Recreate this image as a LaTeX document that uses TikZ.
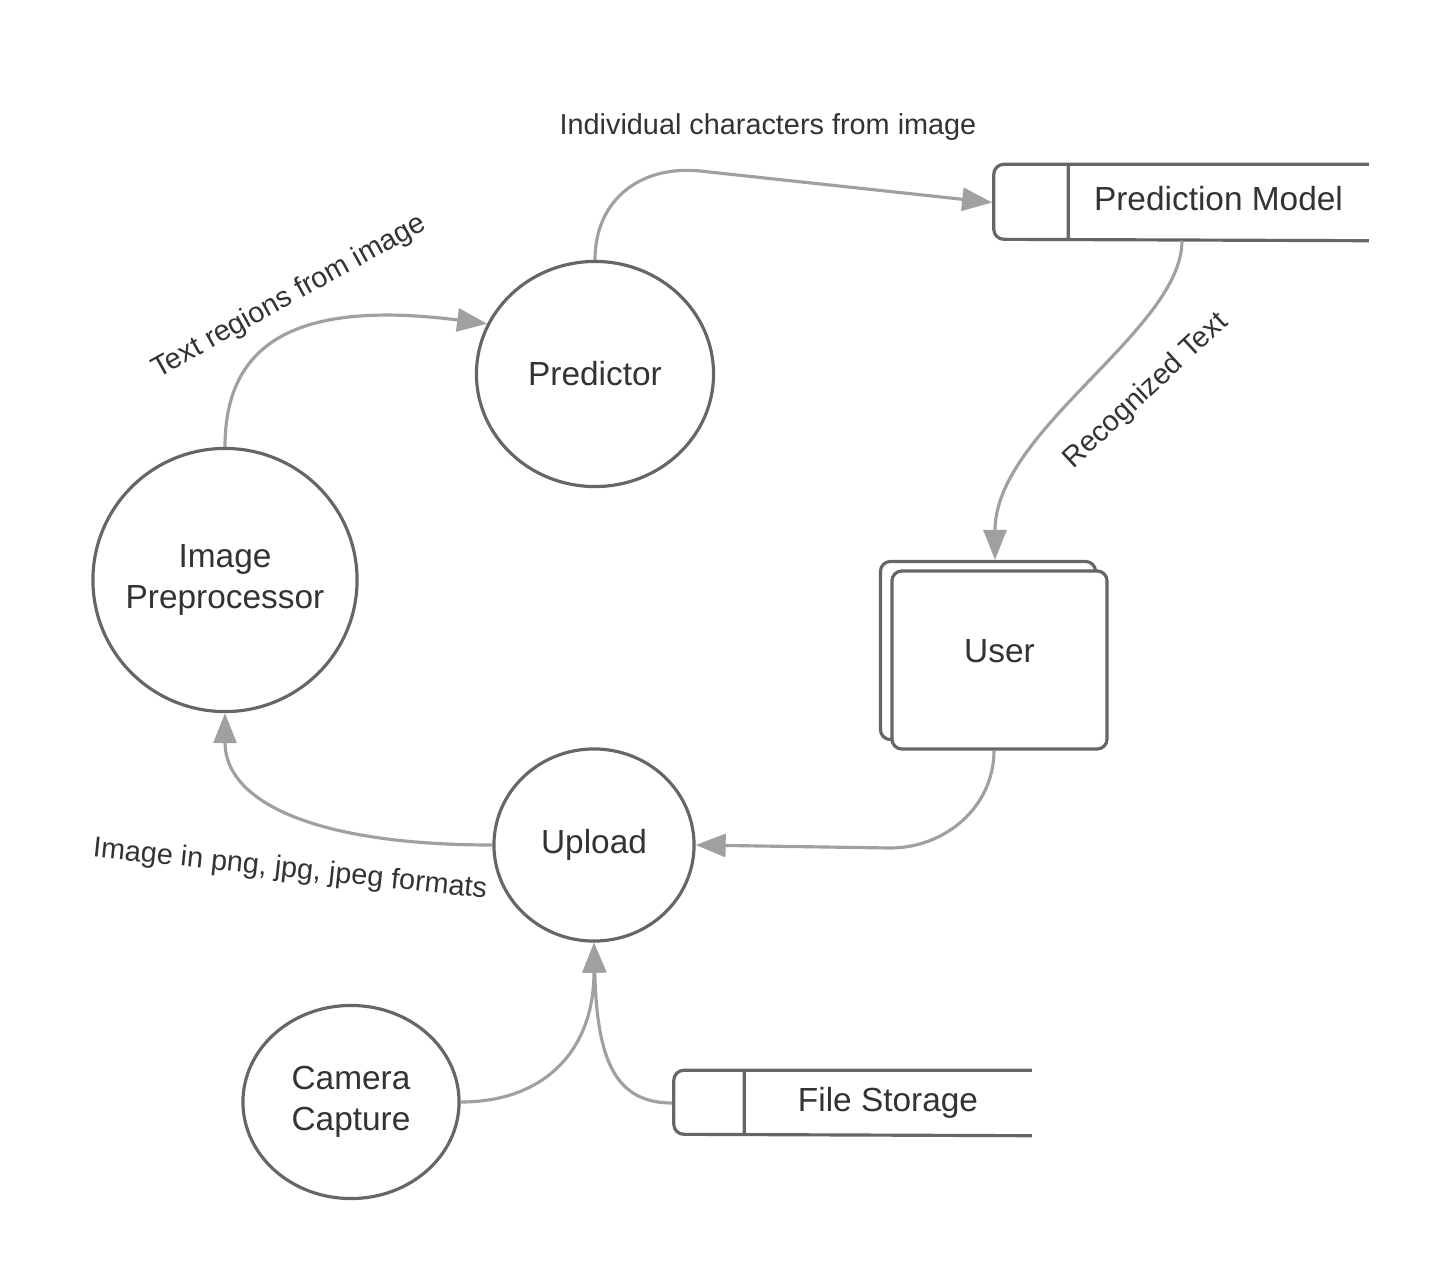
\documentclass[tikz,border=0pt]{standalone}
\usepackage{fontspec}
\setmainfont{Liberation Sans}
\usepackage{xcolor}
\usetikzlibrary{
  arrows.meta,
  shapes.geometric
}
\definecolor{shapegray}{HTML}{666666}
\definecolor{flowgray}{HTML}{A0A0A0}
\definecolor{textgray}{HTML}{333333}
\tikzset{
  proc/.style={
    ellipse,
    draw=shapegray,
    line width=0.9pt,
    inner sep=0pt},
  proctext/.style={
    text=textgray,
    align=center,
    font=\fontsize{9.5}{11.6}\selectfont},
  storepart/.style={
    rectangle,
    inner sep=0pt,
    text=textgray,
    font=\fontsize{9.5}{11.6}\selectfont},
  storeline/.style={
    draw=shapegray,
    line width=0.9pt,
    rounded corners=1mm},
  entity/.style={
    rectangle,
    draw=shapegray,
    fill=white,
    line width=0.9pt,
    rounded corners=1mm,
    minimum width=21.5mm,
    minimum height=17.8mm,
    text=textgray,
    font=\fontsize{9.5}{11.6}\selectfont},
  flow/.style={
    draw=flowgray,
    line width=0.9pt,
    -{Triangle[length=3mm,width=2.3mm]}},
  flowlabel/.style={
    text=textgray,
    inner sep=0pt,
    font=\fontsize{8.2}{10}\selectfont}
  }

\begin{document}
\begin{tikzpicture}[x=0.01cm,y=-0.01cm]
    \useasboundingbox[fill=white] (0,0) rectangle (1444,1275);
    \node[proc, minimum width=26.4mm, minimum height=26.3mm,
      label={[proctext]center:Image\\Preprocessor}] (prep) at (225,580) {};
    \node[proc, minimum width=23.7mm, minimum height=22.5mm,
      label={[proctext]center:Predictor}] (pred) at (595,374) {};
    \node[proc, minimum width=20mm, minimum height=19.2mm,
      label={[proctext]center:Upload}] (upload) at (594,845) {};
    \node[proc, minimum width=21.6mm, minimum height=19.3mm,
      label={[proctext]center:Camera\\Capture}] (camera) at (351,1102) {};
    \node[storepart, minimum width=29.9mm, minimum height=7.5mm, text depth=0.9mm] (pm) at (1218.5,202.5) {Prediction Model};
    \node[storepart, minimum width=28.6mm, minimum height=6.4mm] (fs) at (888,1103) {File Storage};
    \node[entity] (userback) at (988,650.5) {};
    \node[entity, text depth=1.8mm] (user) at (999.5,660) {User};
    \draw [storeline]
    (pm.north east) -- ++(-375,0) -- ++(0,75) -- (pm.south east)
    (pm.north west) -- (pm.south west);
    \draw [storeline]
    (fs.north east) -- ++(-358,0) -- ++(0,64) -- (fs.south east)
    (fs.north west) -- (fs.south west);
    \draw [flow] (prep.north) .. controls (225,340) and (300,300) .. (pred.155);
    \draw [flow] (pred.north) .. controls (595,200) and (640,165) .. (700,171) -- ([xshift=-7.6mm]pm.west);
    \draw [flow] ([xshift=-3.65mm]pm.south) .. controls (1182,330) and (995,430) .. ([xshift=0.7mm]userback.north);
    \draw [flow] ([xshift=-0.55mm]user.south) to[out=-90,in=0] (890,848) -- (upload.east);
    \draw [flow] (upload.west) .. controls (310,845) and (225,800) .. (prep.south);
    \draw [flow] (camera.east) .. controls (545,1102) and (594,1050) .. (upload.south);
    \draw [flow] ([xshift=-7.2mm]fs.west) .. controls (615,1103) and (597,1060) .. (upload.south);
    \node[flowlabel] (charlabel) at (768,127) {Individual characters from image};
    \node[flowlabel, rotate=29] (regionlabel) at (289,297) {Text regions from image};
    \node[flowlabel, rotate=43] (recoglabel) at (1146,391) {Recognized Text};
    \node[flowlabel, rotate=-6] (formatlabel) at (290,870) {Image in png, jpg, jpeg formats};
  \end{tikzpicture}
\end{document}
